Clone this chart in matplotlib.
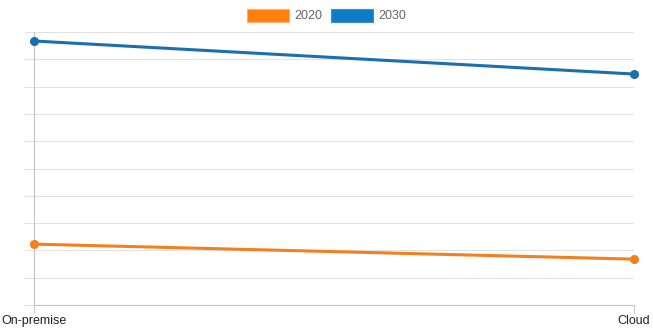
import matplotlib
matplotlib.use("Agg")
import matplotlib.pyplot as plt
from matplotlib.patches import Patch

plt.rcParams["font.family"] = ["Liberation Sans", "DejaVu Sans"]

categories = ["On-premise", "Cloud"]
series_names = ["2020", "2030"]
values_2020 = [2.23, 1.68]
values_2030 = [9.67, 8.46]

line_colors = ["#f47f1e", "#1b6fae"]
patch_colors = ["#ff7f0e", "#0f7bc6"]
edge_colors = ["#ffb070", "#3c8fd0"]

fig = plt.figure(figsize=(6.53, 3.36), dpi=100)
ax = fig.add_axes([34 / 653, 31 / 336, 600 / 653, 273 / 336])

x = list(range(len(categories)))
for vals, c in zip([values_2020, values_2030], line_colors):
    ax.plot(x, vals, color=c, lw=2.2, marker="o", ms=5.5, clip_on=False, zorder=3)

ax.set_xlim(0, 1)
ax.set_ylim(0, 10)
ax.set_yticks(range(0, 11))
ax.set_yticklabels([])
ax.set_xticks(x)
ax.set_xticklabels(categories, fontsize=9, color="#222222")
ax.grid(True, color="#e2e2e2", lw=0.8)
ax.set_axisbelow(True)
ax.tick_params(axis="y", length=7.5, color="#e2e2e2", width=0.8)
ax.tick_params(axis="x", length=5.5, color="#c8c8c8", width=0.8, pad=2)
for s in ["top", "right"]:
    ax.spines[s].set_visible(False)
for s in ["left", "bottom"]:
    ax.spines[s].set_color("#c4c4c4")
    ax.spines[s].set_linewidth(0.8)

handles = [Patch(facecolor=f, edgecolor=e, lw=0.8) for f, e in zip(patch_colors, edge_colors)]
leg = fig.legend(handles, series_names, loc="upper center", bbox_to_anchor=(0.5, 1.0),
                 ncol=2, frameon=False, fontsize=9, handlelength=3.4, handleheight=1.2,
                 handletextpad=0.4, columnspacing=0.7, borderaxespad=0.3)
for t in leg.get_texts():
    t.set_color("#666666")

fig.savefig("out.png", dpi=100)
